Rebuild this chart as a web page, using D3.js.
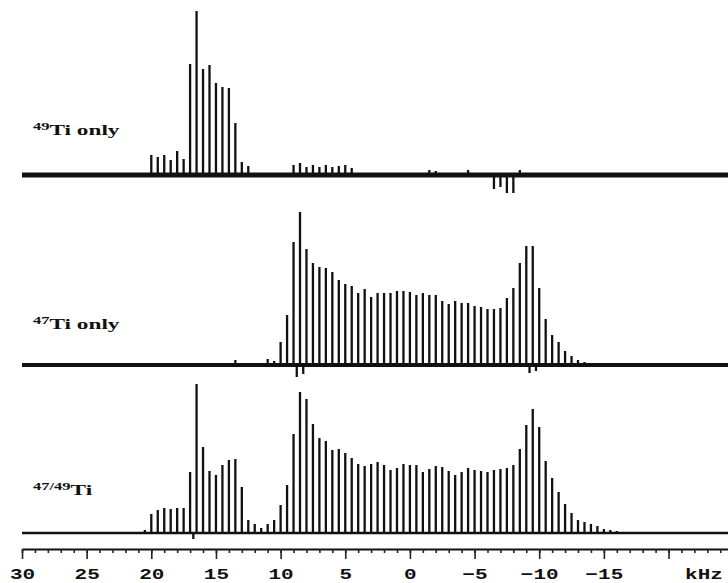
<!DOCTYPE html>
<html>
<head>
<meta charset="utf-8">
<script src="https://cdn.jsdelivr.net/npm/d3@7"></script>
<style>
  body { margin: 0; background: #fff; }
  svg { display: block; }
</style>
</head>
<body>
<div id="viz"></div>
<script>
var width = 728;
var height = 583;

// spikelet positions (kHz) and intensities (arbitrary units)
var pos49 = [20, 19.5, 19, 18.5, 18, 17.5, 17, 16.5, 16, 15.5, 15, 14.5, 14, 13.5, 13, 12.5,
  9, 8.5, 8, 7.5, 7, 6.5, 6, 5.5, 5, 4.5, -1.5, -2, -4.5, -6.5, -7, -7.5, -8, -8.5];
var int49 = [20, 18, 20, 15, 24, 16, 111, 164, 106, 110, 92, 88, 87, 52, 13, 9,
  10, 12, 8, 10, 8, 10, 8, 9, 10, 7, 5, 4, 5, -14, -12, -18, -18, 5];

var pos47 = [13.5, 11, 10.5, 10, 9.5, 9, 8.75, 8.5, 8.25, 8, 7.5, 7, 6.5, 6, 5.5, 5, 4.5, 4, 3.5, 3,
  2.5, 2, 1.5, 1, 0.5, 0, -0.5, -1, -1.5, -2, -2.5, -3, -3.5, -4, -4.5, -5, -5.5, -6,
  -6.5, -7, -7.5, -8, -8.5, -9, -9.25, -9.5, -9.75, -10, -10.5, -11, -11.5, -12, -12.5, -13, -13.5];
var int47 = [5, 6, 4, 23, 50, 123, -12, 153, -9, 116, 102, 98, 97, 93, 85, 81, 79, 72, 76, 68,
  72, 72, 72, 74, 74, 73, 70, 72, 70, 70, 64, 61, 64, 62, 62, 59, 58, 56,
  56, 57, 67, 77, 102, 119, -8, 119, -6, 77, 46, 30, 23, 14, 9, 5, 3];

var pos4749 = [20.5, 20, 19.5, 19, 18.5, 18, 17.5, 17, 16.75, 16.5, 16, 15.5, 15, 14.5, 14, 13.5, 13, 12.5, 12,
  11.5, 11, 10.5, 10, 9.5, 9, 8.5, 8, 7.5, 7, 6.5, 6, 5.5, 5, 4.5, 4, 3.5, 3, 2.5, 2, 1.5, 1,
  0.5, 0, -0.5, -1, -1.5, -2, -2.5, -3, -3.5, -4, -4.5, -5, -5.5, -6, -6.5, -7, -7.5, -8,
  -8.5, -9, -9.5, -10, -10.5, -11, -11.5, -12, -12.5, -13, -13.5, -14, -14.5, -15, -15.5, -16];
var int4749 = [3, 19, 23, 25, 24, 25, 25, 61, -6, 149, 86, 62, 58, 68, 73, 74, 46, 13, 9,
  5, 9, 13, 28, 48, 99, 141, 134, 109, 95, 92, 83, 84, 80, 75, 69, 67, 69, 71, 68, 63, 65,
  69, 68, 68, 61, 64, 67, 66, 62, 58, 61, 65, 63, 62, 61, 63, 64, 65, 68,
  84, 108, 124, 106, 72, 55, 41, 29, 20, 13, 11, 9, 7, 4, 3, 2];

var majorTicks = [30, 25, 20, 15, 10, 5, 0, -5, -10, -15, -20];
var minorTicks = d3.range(30, -25, -1);

var panels = [
  { sup: "49", name: "Ti only", pos: pos49, val: int49, base: 175, labelY: 135, noise: 5 },
  { sup: "47", name: "Ti only", pos: pos47, val: int47, base: 365, labelY: 329, noise: 4 },
  { sup: "47/49", name: "Ti", pos: pos4749, val: int4749, base: 533, labelY: 495, noise: 2.5 }
];

var x = d3.scaleLinear()
  .domain([30, -24.6])
  .range([22, width]);

var y = d3.scaleLinear()
  .domain([0, 170])
  .range([0, 170]);

var svg = d3.select("#viz").append("svg")
  .attr("width", width)
  .attr("height", height);

panels.forEach(function(p) {
  var g = svg.append("g")
    .attr("transform", "translate(0," + p.base + ")");

  // noisy baseline
  g.append("line")
    .attr("x1", x(30))
    .attr("x2", x(-24.6))
    .attr("y1", 0)
    .attr("y2", 0)
    .attr("stroke", "#111")
    .attr("stroke-width", p.noise);

  g.selectAll(".spike")
      .data(d3.zip(p.pos, p.val))
    .enter().append("line")
      .attr("class", "spike")
      .attr("x1", function(d) { return x(d[0]); })
      .attr("x2", function(d) { return x(d[0]); })
      .attr("y1", 0)
      .attr("y2", function(d) { return -y(d[1]); })
      .attr("stroke", "#111")
      .attr("stroke-width", 2.3);

  var t = svg.append("text")
    .attr("transform", "translate(33," + p.labelY + ") scale(1.5,1)")
    .attr("font-family", "'Liberation Serif', 'Times New Roman', serif")
    .attr("font-weight", "bold")
    .attr("font-size", 15.5)
    .attr("fill", "#111");
  t.append("tspan")
    .attr("font-size", 11)
    .attr("dy", -5)
    .text(p.sup);
  t.append("tspan")
    .attr("dy", 5)
    .text(p.name);
});

var axisG = svg.append("g")
  .attr("transform", "translate(0,549)");

axisG.append("g")
  .call(d3.axisBottom(x).tickValues(minorTicks).tickSize(4).tickSizeOuter(0).tickFormat(""))
  .call(function(g) {
    g.select(".domain").attr("stroke", "#111").attr("stroke-width", 2);
    g.selectAll(".tick line").attr("stroke", "#222").attr("stroke-width", 1.6);
  });

axisG.append("g")
  .call(d3.axisBottom(x).tickValues(majorTicks).tickSize(10).tickSizeOuter(0)
    .tickFormat(function(d) { return d === -20 ? "" : d3.format("d")(d); }))
  .call(function(g) {
    g.select(".domain").remove();
    g.selectAll(".tick line").attr("stroke", "#222").attr("stroke-width", 1.6);
    g.selectAll(".tick text")
      .attr("y", null)
      .attr("dy", null)
      .attr("transform", "translate(0,30) scale(1.4,1)")
      .attr("fill", "#111")
      .attr("font-family", "'Liberation Mono', 'Courier New', monospace")
      .attr("font-weight", "bold")
      .attr("font-size", 15);
  });

axisG.append("text")
  .attr("transform", "translate(704,30) scale(1.4,1)")
  .attr("text-anchor", "middle")
  .attr("fill", "#111")
  .attr("font-family", "'Liberation Mono', 'Courier New', monospace")
  .attr("font-weight", "bold")
  .attr("font-size", 15)
  .text("kHz");
</script>
</body>
</html>
